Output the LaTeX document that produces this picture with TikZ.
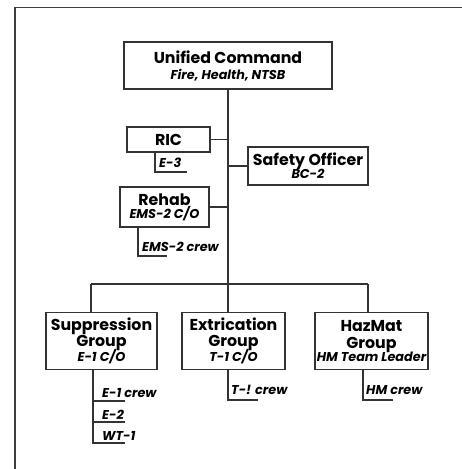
\documentclass[tikz,border=0pt]{standalone}
\usepackage{fontspec}
\setmainfont{Poppins}
\newcommand{\ttlfont}{\fontsize{15.8}{16}\selectfont\bfseries}
\newcommand{\subfont}{\fontsize{12.8}{14}\selectfont\bfseries\itshape}
\tikzset{
  box/.style={draw=black!80, line width=1.2pt, fill=white, align=center, inner sep=0pt, font=\ttlfont},
  link/.style={draw=black!80, line width=1.2pt},
  crew/.style={anchor=base west, inner sep=0pt, font=\subfont}
}
\begin{document}
\begin{tikzpicture}[x=1pt,y=-1pt]
\useasboundingbox (0,0) rectangle (462,469);
\draw[black!75, line width=1.4pt] (15,469) -- (15,7.5) -- (462,7.5);

\node (uc) at (228,65.5) [box, minimum width=208pt, minimum height=47pt]{Unified Command\\[0pt]{\subfont Fire, Health, NTSB}};
\node (ric) at (168.5,139.5) [box, minimum width=83pt, minimum height=25pt]{RIC};
\node (safety) at (308,166) [box, minimum width=120pt, minimum height=38pt]{Safety Officer\\[-3pt]{\subfont BC-2}};
\node (rehab) at (164.5,207) [box, minimum width=89pt, minimum height=40pt]{Rehab\\[-3pt]{\subfont EMS-2 C/O}};

\node (supp) at (101.5,341) [box, minimum width=111pt, minimum height=57pt]{Suppression\\Group\\[-3pt]{\subfont E-1 C/O}};
\node (extr) at (233.5,341) [box, minimum width=103pt, minimum height=57pt]{Extrication\\Group\\[-3pt]{\subfont T-1 C/O}};
\node (hazmat) at (371.5,341) [box, minimum width=113pt, minimum height=57pt]{HazMat\\Group\\[-3pt]{\subfont HM Team Leader}};

\node (e3) at (159,167) [crew]{E-3};
\node (ems2) at (142,251) [crew]{EMS-2 crew};
\node (e1) at (102,397) [crew]{E-1 crew};
\node (e2) at (102,419) [crew]{E-2};
\node (wt1) at (102,440) [crew]{WT-1};
\node (t1) at (231,394) [crew]{T-! crew};
\node (hm) at (366,394) [crew]{HM crew};

\coordinate (bar) at (228,284);
\coordinate (barL) at (91,284);
\coordinate (barR) at (368,284);
\draw[link] (uc.south) -- (bar);
\draw[link] (ric.east) -- (ric.east -| uc.south);
\draw[link] (safety.west) -- (safety.west -| uc.south);
\draw[link] (rehab.east) -- (rehab.east -| uc.south);
\draw[link] (barL) -- (barR);
\draw[link] (barL) -- (barL |- supp.north);
\draw[link] (bar) -- (bar |- extr.north);
\draw[link] (barR) -- (barR |- hazmat.north);

\coordinate (e3c) at (155,172);
\coordinate (e3e) at (187,172);
\draw[link] (e3c |- ric.south) -- (e3c) -- (e3e);
\coordinate (ems2c) at (138,256);
\coordinate (ems2e) at (167,256);
\draw[link] (ems2c |- rehab.south) -- (ems2c) -- (ems2e);
\coordinate (e1c) at (93,401);
\coordinate (e1e) at (125,401);
\coordinate (e2c) at (93,422);
\coordinate (e2e) at (125,422);
\coordinate (wt1c) at (93,443);
\coordinate (wt1e) at (125,443);
\draw[link] (e1c |- supp.south) -- (wt1c) -- (wt1e);
\draw[link] (e1c) -- (e1e);
\draw[link] (e2c) -- (e2e);
\coordinate (t1c) at (228,400);
\coordinate (t1e) at (258,400);
\draw[link] (t1c |- extr.south) -- (t1c) -- (t1e);
\coordinate (hmc) at (363,400);
\coordinate (hme) at (393,400);
\draw[link] (hmc |- hazmat.south) -- (hmc) -- (hme);
\end{tikzpicture}
\end{document}
